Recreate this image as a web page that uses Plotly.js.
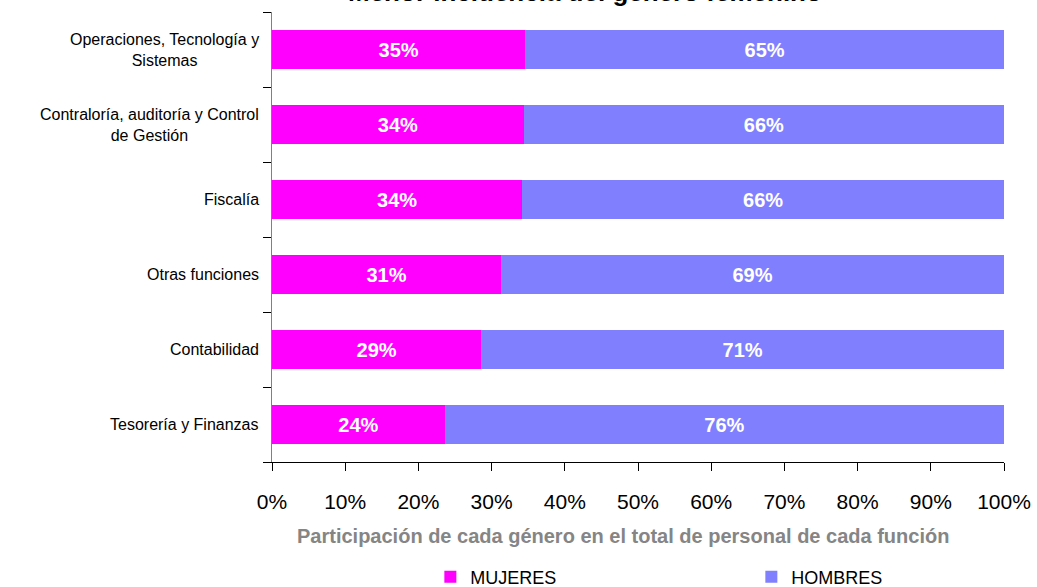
<!DOCTYPE html>
<html>
<head>
<meta charset="utf-8">
<script src="https://cdn.plot.ly/plotly-3.0.1.min.js"></script>
<style>
  html, body { margin: 0; padding: 0; background: #fff; }
  #chart { width: 1037px; height: 587px; }
</style>
</head>
<body>
<div id="chart"></div>
<script>
// bottom to top, as drawn
const funciones = [
  'Tesorería y Finanzas',
  'Contabilidad',
  'Otras funciones',
  'Fiscalía',
  'Contraloría, auditoría y Control<br>de Gestión',
  'Operaciones, Tecnología y<br>Sistemas',
];
const mujeres = [23.6, 28.6, 31.3, 34.2, 34.4, 34.6];
const hombres = [76.4, 71.4, 68.7, 65.8, 65.6, 65.4];
const xTicks = [0, 10, 20, 30, 40, 50, 60, 70, 80, 90, 100];

const FONT = 'Arial, "Liberation Sans", sans-serif';
const labelFont = { family: FONT, size: 20, color: '#fff', weight: 'bold' };

const traces = [
  {
    type: 'bar', orientation: 'h',
    name: 'MUJERES',
    y: funciones, x: mujeres,
    marker: { color: '#ff00ff' },
    width: 0.52,
    text: mujeres.map(v => Math.round(v) + '%'),
    textposition: 'inside', insidetextanchor: 'middle',
    textfont: labelFont,
    hoverinfo: 'skip',
  },
  {
    type: 'bar', orientation: 'h',
    name: 'HOMBRES',
    y: funciones, x: hombres,
    marker: { color: '#8080ff' },
    width: 0.52,
    text: hombres.map(v => Math.round(v) + '%'),
    textposition: 'inside', insidetextanchor: 'middle',
    textfont: labelFont,
    hoverinfo: 'skip',
  },
];

// category labels as centred annotations (Excel-style centred multi-line labels)
const annots = funciones.map(f => ({
  xref: 'paper', yref: 'y',
  x: -0.015, y: f,
  xanchor: 'right', yanchor: 'middle',
  text: f, align: 'center',
  showarrow: false,
  font: { family: FONT, size: 16, color: '#000' },
}));

// x axis title, placed by hand to sit like the Excel one
annots.push({
  xref: 'paper', yref: 'paper',
  x: 0.4795, y: -0.1644,
  xanchor: 'center', yanchor: 'middle',
  text: '<b>Participación de cada género en el total de personal de cada función</b>',
  showarrow: false,
  font: { family: FONT, size: 20, color: '#858585' },
});

// chart title: sits mostly above the top edge, as in the source image
annots.push({
  xref: 'paper', yref: 'paper',
  x: 0.427, y: 1.0065,
  xanchor: 'center', yanchor: 'bottom',
  text: '<b>Menor incidencia del género femenino</b>',
  showarrow: false,
  font: { family: FONT, size: 26, color: '#000' },
});

const layout = {
  width: 1037, height: 587,
  margin: { l: 272, r: 33, t: 12, b: 125 },
  paper_bgcolor: '#fff', plot_bgcolor: '#fff',
  barmode: 'stack',
  showlegend: true,
  xaxis: {
    range: [0, 100],
    tickvals: xTicks,
    ticktext: xTicks.map(v => v + '%'),
    ticks: 'outside', ticklen: 8, tickcolor: '#000',
    ticklabelstandoff: 13,
    showline: true, linecolor: '#000', linewidth: 1,
    showgrid: false, zeroline: false,
    tickfont: { family: FONT, size: 21, color: '#000' },
  },
  yaxis: {
    type: 'category',
    range: [-0.5, 5.5],
    showticklabels: false,
    ticks: 'outside', ticklen: 8, tickcolor: '#000',
    tickson: 'boundaries',
    showline: true, linecolor: '#808080', linewidth: 1,
    showgrid: false, zeroline: false,
  },
  legend: {
    orientation: 'h',
    xref: 'container', yref: 'container',
    x: 0.415, xanchor: 'left',
    y: 0.017, yanchor: 'middle',
    entrywidth: 276, entrywidthmode: 'pixels',
    font: { family: FONT, size: 18, color: '#000' },
    traceorder: 'normal',
  },
  annotations: annots,
};

Plotly.newPlot('chart', traces, layout, { displayModeBar: false, staticPlot: true });
</script>
</body>
</html>
